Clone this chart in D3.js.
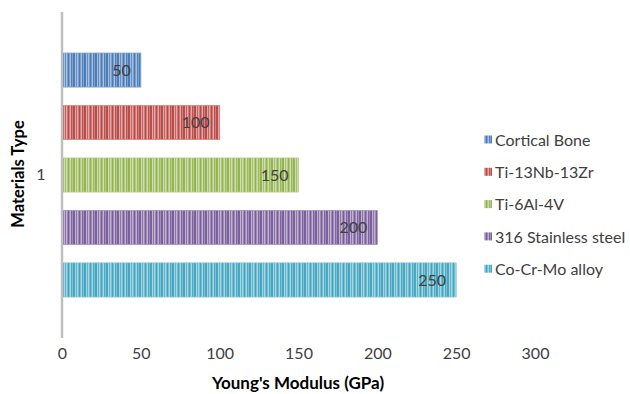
<!DOCTYPE html>
<html>
<head>
<meta charset="utf-8">
<script src="https://cdn.jsdelivr.net/npm/d3@7"></script>
<style>
  html, body { margin: 0; padding: 0; background: #fff; }
  svg { display: block; }
  text { font-family: Lato, "Open Sans", sans-serif; }
</style>
</head>
<body>
<svg id="chart" width="630" height="394"></svg>
<script>
// Young's modulus of implant materials (GPa)
const materials = ["Cortical Bone", "Ti-13Nb-13Zr", "Ti-6Al-4V", "316 Stainless steel", "Co-Cr-Mo alloy"];
const modulus = [50, 100, 150, 200, 250];
const colors = ["#4F81BD", "#C0504D", "#9BBB59", "#8064A2", "#4BACC6"];
const xTicks = [0, 50, 100, 150, 200, 250, 300];
const groupLabels = ["1"];

const svg = d3.select("#chart");
const margin = { left: 62, right: 95, top: 12, bottom: 56 };
const W = 630, H = 394;

const x = d3.scaleLinear().domain([0, 300]).range([margin.left, margin.left + 473]);
const yGroup = d3.scaleBand().domain(groupLabels).range([margin.top, H - margin.bottom]);
const y = d3.scaleBand().domain(materials)
  .range([yGroup.range()[0] + 41, yGroup.range()[1] - 41])
  .paddingInner(0.35).paddingOuter(0);

// striped fills, one per series
const defs = svg.append("defs");
colors.forEach((c, i) => {
  const light = d3.interpolateRgb(c, "#ffffff")(0.5);
  const mid = d3.interpolateRgb(c, "#ffffff")(0.25);
  const dark = d3.color(c).darker(0.2).formatHex();
  const p = defs.append("pattern").attr("id", "stripe" + i)
    .attr("patternUnits", "userSpaceOnUse").attr("width", 11).attr("height", 10);
  p.append("rect").attr("width", 11).attr("height", 10).attr("fill", c);
  [[0, 1, light], [1, 1, mid], [2, 1, dark], [3.5, 1.5, light], [6, 1, mid], [7.5, 1, dark], [9, 1.2, light]]
    .forEach(([sx, sw, sc]) => p.append("rect").attr("x", sx).attr("width", sw).attr("height", 10).attr("fill", sc));
});

// bars
svg.append("g").selectAll("rect").data(materials).join("rect")
  .attr("x", x(0) + 1)
  .attr("y", d => y(d))
  .attr("width", (d, i) => x(modulus[i]) - x(0) - 1)
  .attr("height", y.bandwidth())
  .attr("fill", (d, i) => `url(#stripe${i})`)
  .attr("stroke", (d, i) => d3.interpolateRgb(colors[i], "#ffffff")(0.3))
  .attr("stroke-width", 0.8);

// value labels at the inside end
svg.append("g").selectAll("text").data(materials).join("text")
  .attr("x", (d, i) => x(modulus[i]) - 10)
  .attr("y", d => y(d) + y.bandwidth() / 2)
  .attr("dy", "0.36em")
  .attr("text-anchor", "end")
  .attr("fill", "#404040")
  .attr("font-size", 16)
  .text((d, i) => modulus[i]);

// vertical category axis line
svg.append("line")
  .attr("x1", x(0)).attr("x2", x(0))
  .attr("y1", yGroup.range()[0]).attr("y2", yGroup.range()[1])
  .attr("stroke", "#BFBFBF").attr("stroke-width", 2.5);

// category label
svg.append("g").selectAll("text").data(groupLabels).join("text")
  .attr("x", 41)
  .attr("y", d => yGroup(d) + yGroup.bandwidth() / 2 - 1)
  .attr("dy", "0.36em")
  .attr("text-anchor", "middle")
  .attr("fill", "#404040")
  .attr("font-size", 16)
  .text(d => d);

// value axis
const xAxis = svg.append("g")
  .attr("transform", `translate(0,${H - margin.bottom + 10})`)
  .call(d3.axisBottom(x).tickValues(xTicks).tickSize(0).tickPadding(0));
xAxis.select(".domain").remove();
xAxis.selectAll("text").attr("font-size", 16).attr("fill", "#404040")
  .attr("font-family", "Lato, 'Open Sans', sans-serif");

// axis titles
svg.append("text")
  .attr("x", 298)
  .attr("y", 389)
  .attr("text-anchor", "middle")
  .attr("font-weight", "bold")
  .attr("font-size", 17)
  .attr("fill", "#000")
  .text("Young's Modulus (GPa)");

svg.append("text")
  .attr("transform", `translate(24,${yGroup(groupLabels[0]) + yGroup.bandwidth() / 2 - 1}) rotate(-90)`)
  .attr("text-anchor", "middle")
  .attr("font-weight", "bold")
  .attr("font-size", 16.5)
  .attr("fill", "#000")
  .text("Materials Type");

// legend
const legend = svg.append("g").attr("transform", "translate(484,140)");
const item = legend.selectAll("g").data(materials).join("g")
  .attr("transform", (d, i) => `translate(0,${i * 32.3})`);
item.append("rect").attr("x", 0).attr("y", -4.5).attr("width", 8).attr("height", 8)
  .attr("fill", (d, i) => `url(#stripe${i})`);
item.append("text").attr("x", 11).attr("y", 0).attr("dy", "0.36em")
  .attr("font-size", 16).attr("fill", "#404040").text(d => d);
</script>
</body>
</html>
